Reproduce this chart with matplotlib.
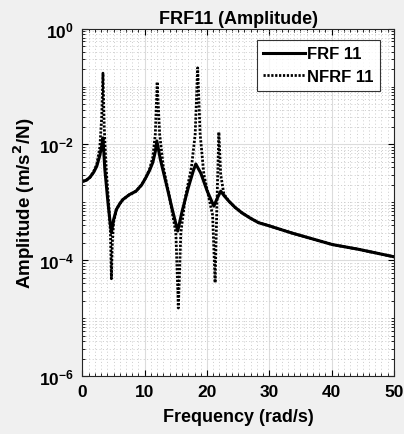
import numpy as np
import matplotlib
matplotlib.use("Agg")
from matplotlib import pyplot as plt
from matplotlib.ticker import FixedLocator, MultipleLocator, NullFormatter

# FRF 11 (damped)
freq_frf = [0, 0.6, 1.2, 1.8, 2.3, 2.8, 3.1, 3.3, 3.6, 4.1, 4.4, 4.65, 5.0, 5.45, 6.0,
            6.5, 7.5, 8.6, 9.5, 10.2, 10.8, 11.3, 11.7, 11.95, 12.5, 13.5, 14.5, 15.3,
            16.0, 17.0, 17.8, 18.2, 19.0, 20.0, 21.1, 21.6, 22.2, 22.7, 23.5, 24.5,
            25.6, 27.0, 28.3, 30.1, 33.6, 36.3, 40.1, 44.3, 50.0]
amp_frf = [2.3e-3, 2.4e-3, 2.7e-3, 3.3e-3, 4.2e-3, 6.5e-3, 9.5e-3, 1.3e-2, 3.7e-3,
           1e-3, 5e-4, 3e-4, 5e-4, 7.5e-4, 9.5e-4, 1.12e-3, 1.35e-3, 1.56e-3, 2e-3,
           2.7e-3, 3.6e-3, 4.9e-3, 7.5e-3, 1.15e-2, 5.6e-3, 2e-3, 7e-4, 3.2e-4, 7e-4,
           1.8e-3, 3.5e-3, 4.6e-3, 3.2e-3, 1.6e-3, 8.6e-4, 1.15e-3, 1.56e-3, 1.32e-3,
           1.05e-3, 8.2e-4, 6.6e-4, 5.3e-4, 4.45e-4, 3.9e-4, 2.96e-4, 2.45e-4,
           1.87e-4, 1.55e-4, 1.15e-4]

# NFRF 11 (sharp peaks)
freq_nfrf = [0, 0.6, 1.2, 1.8, 2.3, 2.8, 3.1, 3.3, 3.5, 3.8, 4.2, 4.5, 4.65, 4.8, 5.0,
             5.45, 6.0, 6.5, 7.5, 8.6, 9.5, 10.2, 10.8, 11.3, 11.7, 12.0, 12.4, 13.0,
             14.0, 15.0, 15.4, 15.8, 16.5, 17.5, 18.1, 18.5, 18.9, 19.5, 20.3, 20.9,
             21.3, 21.6, 21.9, 22.2, 22.7, 23.5, 24.5, 25.6, 27.0, 28.3, 30.1, 33.6,
             36.3, 40.1, 44.3, 50.0]
amp_nfrf = [2.3e-3, 2.4e-3, 2.7e-3, 3.4e-3, 4.5e-3, 9e-3, 3e-2, 0.17, 2e-2, 4e-3,
            1e-3, 3e-4, 4.8e-5, 2e-4, 4.5e-4, 7.5e-4, 9.5e-4, 1.12e-3, 1.35e-3,
            1.56e-3, 2e-3, 2.7e-3, 3.8e-3, 6e-3, 1.5e-2, 0.12, 1.5e-2, 4e-3, 1.2e-3,
            3e-4, 1.5e-5, 3e-4, 1.2e-3, 4e-3, 1.5e-2, 0.21, 1.5e-2, 3e-3, 1.2e-3,
            6e-4, 4.1e-5, 1e-3, 1.63e-2, 3e-3, 1.4e-3, 1.05e-3, 8.2e-4, 6.6e-4,
            5.3e-4, 4.45e-4, 3.9e-4, 2.96e-4, 2.45e-4, 1.87e-4, 1.55e-4, 1.15e-4]

plt.rcParams['font.family'] = ['Liberation Sans', 'DejaVu Sans']
plt.rcParams['font.weight'] = 'bold'

fig = plt.figure(figsize=(4.04, 4.35), dpi=100, facecolor='#f0f0f0')
ax = fig.add_axes([0.204, 0.133, 0.771, 0.799])

ax.semilogy(freq_frf, amp_frf, color='black', lw=2.2, label='FRF 11')
ax.semilogy(freq_nfrf, amp_nfrf, color='black', lw=2.0, ls=(0, (0.8, 0.6)),
            label='NFRF 11')

ax.set_xlim(0, 50)
ax.set_ylim(1e-6, 1e0)
ax.xaxis.set_major_locator(MultipleLocator(10))
ax.xaxis.set_minor_locator(MultipleLocator(1))
ax.yaxis.set_major_locator(FixedLocator([1e-6, 1e-4, 1e-2, 1e0]))
minor_y = [m * 10.0 ** d for d in range(-6, 0) for m in range(1, 10)
           if not (m == 1 and d % 2 == 0)]
ax.yaxis.set_minor_locator(FixedLocator(minor_y))
ax.yaxis.set_minor_formatter(NullFormatter())

ax.grid(True, which='major', color='#dcdcdc', lw=0.8, ls='-')
ax.grid(True, which='minor', color='#cccccc', lw=0.7, ls=(0, (1, 2.5)))
ax.tick_params(which='both', direction='in', top=True, right=True, labelsize=12.5)
ax.tick_params(which='major', length=4, pad=6)
ax.tick_params(which='minor', length=2)
for s in ax.spines.values():
    s.set_color('#262626')

ax.set_title('FRF11 (Amplitude)', fontsize=13, fontweight='bold', pad=4)
ax.set_xlabel('Frequency (rad/s)', fontsize=13, fontweight='bold', labelpad=6)
ax.set_ylabel('Amplitude (m/s$^\\mathbf{2}$/N)', fontsize=13.5, fontweight='bold',
              labelpad=1)

leg = ax.legend(loc='upper right', bbox_to_anchor=(0.955, 0.968), fontsize=12,
                frameon=True, fancybox=False, edgecolor='black', handlelength=2.5,
                borderpad=0.4, labelspacing=0.45, handletextpad=0.1,
                borderaxespad=0)
leg.get_frame().set_linewidth(0.8)

fig.savefig('out.png', dpi=100, facecolor=fig.get_facecolor())
